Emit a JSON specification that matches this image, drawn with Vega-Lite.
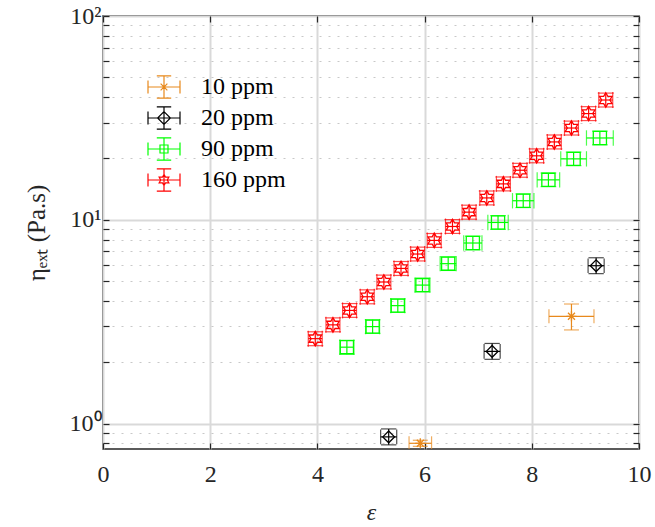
{
  "$schema": "https://vega.github.io/schema/vega-lite/v6.json",
  "width": 536,
  "height": 433,
  "autosize": "none",
  "padding": {"left": 103, "top": 16, "right": 16, "bottom": 78},
  "background": "white",
  "config": {
    "view": {"stroke": "#262626", "strokeWidth": 1.5},
    "font": "Liberation Serif",
    "style": {"guide-label": {"font": "Liberation Serif"}, "guide-title": {"font": "Liberation Serif"}},
    "axis": {"labelFont": "Liberation Serif", "titleFont": "Liberation Serif", "labelColor": "#262626", "titleColor": "#262626", "titleFontWeight": "normal", "labelFontSize": 24, "titleFontSize": 24, "domain": false, "tickColor": "#262626", "tickWidth": 1.2, "labelOverlap": false, "labelBound": false, "labelFlush": false},
    "legend": {"labelFont": "Liberation Serif"}
  },
  "data": {"values": [
    {"series": "160 ppm", "x": 3.96, "y": 2.61, "xlo": 3.83, "xhi": 4.09, "ylo": 2.41, "yhi": 2.82},
    {"series": "160 ppm", "x": 4.29, "y": 3.05, "xlo": 4.16, "xhi": 4.42, "ylo": 2.82, "yhi": 3.30},
    {"series": "160 ppm", "x": 4.60, "y": 3.59, "xlo": 4.47, "xhi": 4.73, "ylo": 3.32, "yhi": 3.88},
    {"series": "160 ppm", "x": 4.93, "y": 4.19, "xlo": 4.80, "xhi": 5.06, "ylo": 3.87, "yhi": 4.53},
    {"series": "160 ppm", "x": 5.24, "y": 4.95, "xlo": 5.11, "xhi": 5.37, "ylo": 4.58, "yhi": 5.35},
    {"series": "160 ppm", "x": 5.56, "y": 5.77, "xlo": 5.43, "xhi": 5.69, "ylo": 5.33, "yhi": 6.24},
    {"series": "160 ppm", "x": 5.87, "y": 6.79, "xlo": 5.74, "xhi": 6.00, "ylo": 6.28, "yhi": 7.34},
    {"series": "160 ppm", "x": 6.18, "y": 7.92, "xlo": 6.05, "xhi": 6.31, "ylo": 7.32, "yhi": 8.56},
    {"series": "160 ppm", "x": 6.52, "y": 9.27, "xlo": 6.39, "xhi": 6.65, "ylo": 8.57, "yhi": 10.02},
    {"series": "160 ppm", "x": 6.83, "y": 10.9, "xlo": 6.70, "xhi": 6.96, "ylo": 10.07, "yhi": 11.79},
    {"series": "160 ppm", "x": 7.16, "y": 12.8, "xlo": 7.03, "xhi": 7.29, "ylo": 11.83, "yhi": 13.84},
    {"series": "160 ppm", "x": 7.47, "y": 15.0, "xlo": 7.34, "xhi": 7.60, "ylo": 13.86, "yhi": 16.22},
    {"series": "160 ppm", "x": 7.78, "y": 17.5, "xlo": 7.65, "xhi": 7.91, "ylo": 16.17, "yhi": 18.92},
    {"series": "160 ppm", "x": 8.09, "y": 20.6, "xlo": 7.96, "xhi": 8.22, "ylo": 19.04, "yhi": 22.27},
    {"series": "160 ppm", "x": 8.42, "y": 24.1, "xlo": 8.29, "xhi": 8.55, "ylo": 22.27, "yhi": 26.06},
    {"series": "160 ppm", "x": 8.74, "y": 28.2, "xlo": 8.61, "xhi": 8.87, "ylo": 26.06, "yhi": 30.49},
    {"series": "160 ppm", "x": 9.06, "y": 33.2, "xlo": 8.93, "xhi": 9.19, "ylo": 30.68, "yhi": 35.90},
    {"series": "160 ppm", "x": 9.38, "y": 38.7, "xlo": 9.25, "xhi": 9.51, "ylo": 35.77, "yhi": 41.84},
    {"series": "90 ppm", "x": 4.55, "y": 2.37, "xlo": 4.42, "xhi": 4.68, "ylo": 2.19, "yhi": 2.56},
    {"series": "90 ppm", "x": 5.03, "y": 2.99, "xlo": 4.90, "xhi": 5.16, "ylo": 2.77, "yhi": 3.23},
    {"series": "90 ppm", "x": 5.50, "y": 3.79, "xlo": 5.37, "xhi": 5.63, "ylo": 3.51, "yhi": 4.09},
    {"series": "90 ppm", "x": 5.96, "y": 4.78, "xlo": 5.82, "xhi": 6.10, "ylo": 4.43, "yhi": 5.16},
    {"series": "90 ppm", "x": 6.44, "y": 6.09, "xlo": 6.29, "xhi": 6.59, "ylo": 5.64, "yhi": 6.58},
    {"series": "90 ppm", "x": 6.90, "y": 7.69, "xlo": 6.73, "xhi": 7.07, "ylo": 7.12, "yhi": 8.31},
    {"series": "90 ppm", "x": 7.37, "y": 9.70, "xlo": 7.18, "xhi": 7.56, "ylo": 8.98, "yhi": 10.48},
    {"series": "90 ppm", "x": 7.84, "y": 12.4, "xlo": 7.64, "xhi": 8.04, "ylo": 11.48, "yhi": 13.39},
    {"series": "90 ppm", "x": 8.31, "y": 15.7, "xlo": 8.10, "xhi": 8.52, "ylo": 14.54, "yhi": 16.96},
    {"series": "90 ppm", "x": 8.78, "y": 19.9, "xlo": 8.54, "xhi": 9.02, "ylo": 18.43, "yhi": 21.49},
    {"series": "90 ppm", "x": 9.27, "y": 25.2, "xlo": 9.02, "xhi": 9.52, "ylo": 23.33, "yhi": 27.22},
    {"series": "20 ppm", "x": 5.33, "y": 0.86, "xlo": 5.18, "xhi": 5.48, "ylo": 0.786, "yhi": 0.941},
    {"series": "20 ppm", "x": 7.26, "y": 2.26, "xlo": 7.11, "xhi": 7.41, "ylo": 2.066, "yhi": 2.472},
    {"series": "20 ppm", "x": 9.20, "y": 5.95, "xlo": 9.05, "xhi": 9.35, "ylo": 5.44, "yhi": 6.51},
    {"series": "10 ppm", "x": 5.92, "y": 0.80, "xlo": 5.71, "xhi": 6.13, "ylo": 0.773, "yhi": 0.828},
    {"series": "10 ppm", "x": 8.74, "y": 3.36, "xlo": 8.32, "xhi": 9.16, "ylo": 2.88, "yhi": 3.86}
  ]},
  "layer": [
    {
      "mark": {"type": "rule", "strokeWidth": 1.2, "clip": true},
      "encoding": {
        "x": {"field": "xlo", "type": "quantitative", "scale": {"domain": [0, 10], "nice": false, "zero": false},
              "axis": {"orient": "bottom", "values": [0, 2, 4, 6, 8, 10], "labelFont": "Liberation Serif", "titleFont": "Liberation Serif", "grid": true, "gridColor": "#d9d9d9", "gridWidth": 2, "tickSize": -6, "labelPadding": 19, "title": "ε", "titleFontStyle": "italic", "titlePadding": 14}},
        "x2": {"field": "xhi"},
        "y": {"field": "y", "type": "quantitative", "scale": {"type": "log", "domain": [0.75, 100], "nice": false},
              "axis": {"orient": "left", "values": [0.8, 0.9, 1, 2, 3, 4, 5, 6, 7, 8, 9, 10, 20, 30, 40, 50, 60, 70, 80, 90, 100],
                       "labelExpr": "datum.value==1?'10⁰':datum.value==10?'10¹':datum.value==100?'10²':''",
                       "labelFont": "Liberation Serif", "titleFont": "Liberation Serif",
                       "grid": true,
                       "gridColor": {"condition": {"test": "datum.value==1||datum.value==10||datum.value==100", "value": "#d9d9d9"}, "value": "#c8c8c8"},
                       "gridDash": {"condition": {"test": "datum.value==1||datum.value==10||datum.value==100", "value": []}, "value": [2, 7]},
                       "gridWidth": {"condition": {"test": "datum.value==1||datum.value==10||datum.value==100", "value": 2}, "value": 1},
                       "tickSize": -6, "labelPadding": 8, "title": "ηₑₓₜ (Pa.s)", "titleFontSize": 25, "titlePadding": 20}},
        "color": {"field": "series", "type": "nominal", "scale": {"domain": ["10 ppm", "20 ppm", "90 ppm", "160 ppm"], "range": ["#E8891C", "#000000", "#00FF00", "#FF0000"]}, "legend": null}
      }
    },
    {
      "mark": {"type": "rule", "strokeWidth": 1.2, "clip": true},
      "encoding": {
        "x": {"field": "x", "type": "quantitative", "scale": {"domain": [0, 10], "nice": false, "zero": false},
              "axis": {"orient": "top", "values": [0, 2, 4, 6, 8, 10], "grid": false, "labels": false, "tickSize": -6, "title": null}},
        "y": {"field": "ylo", "type": "quantitative", "scale": {"type": "log", "domain": [0.75, 100], "nice": false},
              "axis": {"orient": "right", "values": [0.8, 0.9, 1, 2, 3, 4, 5, 6, 7, 8, 9, 10, 20, 30, 40, 50, 60, 70, 80, 90, 100], "grid": false, "labels": false, "tickSize": -6, "title": null}},
        "y2": {"field": "yhi"},
        "color": {"field": "series", "type": "nominal", "scale": {"domain": ["10 ppm", "20 ppm", "90 ppm", "160 ppm"], "range": ["#E8891C", "#000000", "#00FF00", "#FF0000"]}, "legend": null}
      }
    },
    {
      "mark": {"type": "tick", "orient": "vertical", "thickness": 1.2, "clip": true},
      "encoding": {
        "x": {"field": "xlo", "type": "quantitative", "axis": null},
        "y": {"field": "y", "type": "quantitative", "axis": null},
        "size": {"field": "series", "type": "nominal", "scale": {"domain": ["10 ppm", "20 ppm", "90 ppm", "160 ppm"], "range": [14, 16, 14, 13]}, "legend": null},
        "color": {"field": "series", "type": "nominal", "scale": {"domain": ["10 ppm", "20 ppm", "90 ppm", "160 ppm"], "range": ["#E8891C", "#000000", "#00FF00", "#FF0000"]}, "legend": null}
      }
    },
    {
      "mark": {"type": "tick", "orient": "vertical", "thickness": 1.2, "clip": true},
      "encoding": {
        "x": {"field": "xhi", "type": "quantitative", "axis": null},
        "y": {"field": "y", "type": "quantitative", "axis": null},
        "size": {"field": "series", "type": "nominal", "scale": {"domain": ["10 ppm", "20 ppm", "90 ppm", "160 ppm"], "range": [14, 16, 14, 13]}, "legend": null},
        "color": {"field": "series", "type": "nominal", "scale": {"domain": ["10 ppm", "20 ppm", "90 ppm", "160 ppm"], "range": ["#E8891C", "#000000", "#00FF00", "#FF0000"]}, "legend": null}
      }
    },
    {
      "mark": {"type": "tick", "orient": "horizontal", "thickness": 1.2, "clip": true},
      "encoding": {
        "x": {"field": "x", "type": "quantitative", "axis": null},
        "y": {"field": "ylo", "type": "quantitative", "axis": null},
        "size": {"field": "series", "type": "nominal", "scale": {"domain": ["10 ppm", "20 ppm", "90 ppm", "160 ppm"], "range": [15, 16, 13, 13]}, "legend": null},
        "color": {"field": "series", "type": "nominal", "scale": {"domain": ["10 ppm", "20 ppm", "90 ppm", "160 ppm"], "range": ["#E8891C", "#000000", "#00FF00", "#FF0000"]}, "legend": null}
      }
    },
    {
      "mark": {"type": "tick", "orient": "horizontal", "thickness": 1.2, "clip": true},
      "encoding": {
        "x": {"field": "x", "type": "quantitative", "axis": null},
        "y": {"field": "yhi", "type": "quantitative", "axis": null},
        "size": {"field": "series", "type": "nominal", "scale": {"domain": ["10 ppm", "20 ppm", "90 ppm", "160 ppm"], "range": [15, 16, 13, 13]}, "legend": null},
        "color": {"field": "series", "type": "nominal", "scale": {"domain": ["10 ppm", "20 ppm", "90 ppm", "160 ppm"], "range": ["#E8891C", "#000000", "#00FF00", "#FF0000"]}, "legend": null}
      }
    },
    {
      "mark": {"type": "point", "filled": false, "strokeWidth": 1.3, "opacity": 1, "clip": true},
      "encoding": {
        "x": {"field": "x", "type": "quantitative", "axis": null},
        "y": {"field": "y", "type": "quantitative", "axis": null},
        "shape": {"field": "series", "type": "nominal", "scale": {"domain": ["10 ppm", "20 ppm", "90 ppm", "160 ppm"], "range": [
          "M-1,0L1,0M0,-1L0,1M-0.7,-0.7L0.7,0.7M-0.7,0.7L0.7,-0.7",
          "M0,-1L1,0L0,1L-1,0Z",
          "M-1,-1L1,-1L1,1L-1,1Z",
          "M0,-1L0.289,-0.5L0.866,-0.5L0.577,0L0.866,0.5L0.289,0.5L0,1L-0.289,0.5L-0.866,0.5L-0.577,0L-0.866,-0.5L-0.289,-0.5Z"
        ]}, "legend": null},
        "size": {"field": "series", "type": "nominal", "scale": {"domain": ["10 ppm", "20 ppm", "90 ppm", "160 ppm"], "range": [100, 210, 64, 200]}, "legend": null},
        "color": {"field": "series", "type": "nominal", "scale": {"domain": ["10 ppm", "20 ppm", "90 ppm", "160 ppm"], "range": ["#E8891C", "#000000", "#00FF00", "#FF0000"]}, "legend": null}
      }
    },
    {
      "transform": [{"filter": "false"}],
      "mark": {"type": "point", "filled": false, "strokeWidth": 1.2, "opacity": 1},
      "encoding": {
        "x": {"field": "x", "type": "quantitative", "axis": null},
        "y": {"field": "y", "type": "quantitative", "axis": null},
        "shape": {"field": "series", "type": "nominal", "scale": {"domain": ["10 ppm", "20 ppm", "90 ppm", "160 ppm"], "range": [
          "M-1,0L1,0M-1,-0.41L-1,0.41M1,-0.41L1,0.41M0,-0.69L0,0.69M-0.45,-0.69L0.45,-0.69M-0.45,0.69L0.45,0.69M-0.3,0L0.3,0M0,-0.3L0,0.3M-0.21,-0.21L0.21,0.21M-0.21,0.21L0.21,-0.21",
          "M-1,0L1,0M-1,-0.41L-1,0.41M1,-0.41L1,0.41M0,-0.69L0,0.69M-0.45,-0.69L0.45,-0.69M-0.45,0.69L0.45,0.69M0,-0.4L0.4,0L0,0.4L-0.4,0Z",
          "M-1,0L1,0M-1,-0.41L-1,0.41M1,-0.41L1,0.41M0,-0.69L0,0.69M-0.45,-0.69L0.45,-0.69M-0.45,0.69L0.45,0.69M-0.25,-0.25L0.25,-0.25L0.25,0.25L-0.25,0.25Z",
          "M-1,0L1,0M-1,-0.41L-1,0.41M1,-0.41L1,0.41M0,-0.69L0,0.69M-0.45,-0.69L0.45,-0.69M-0.45,0.69L0.45,0.69M0,-0.35L0.101,-0.175L0.303,-0.175L0.202,0L0.303,0.175L0.101,0.175L0,0.35L-0.101,0.175L-0.303,0.175L-0.202,0L-0.303,-0.175L-0.101,-0.175Z"
        ]}, "legend": {"orient": "none", "legendX": 44, "legendY": 54, "title": null, "labelFontSize": 24, "labelColor": "#000000", "symbolSize": 1024, "symbolStrokeWidth": 1.2, "labelOffset": 20, "rowPadding": -1, "padding": 0}},
        "color": {"field": "series", "type": "nominal", "scale": {"domain": ["10 ppm", "20 ppm", "90 ppm", "160 ppm"], "range": ["#E8891C", "#000000", "#00FF00", "#FF0000"]}, "legend": {"orient": "none", "legendX": 44, "legendY": 54, "title": null, "labelFontSize": 24, "labelColor": "#000000", "symbolSize": 1024, "symbolStrokeWidth": 1.2, "labelOffset": 20, "rowPadding": -1, "padding": 0}}
      }
    }
  ],
  "resolve": {
    "axis": {"x": "independent", "y": "independent"},
    "scale": {"color": "independent", "shape": "independent", "size": "independent"}
  }
}
